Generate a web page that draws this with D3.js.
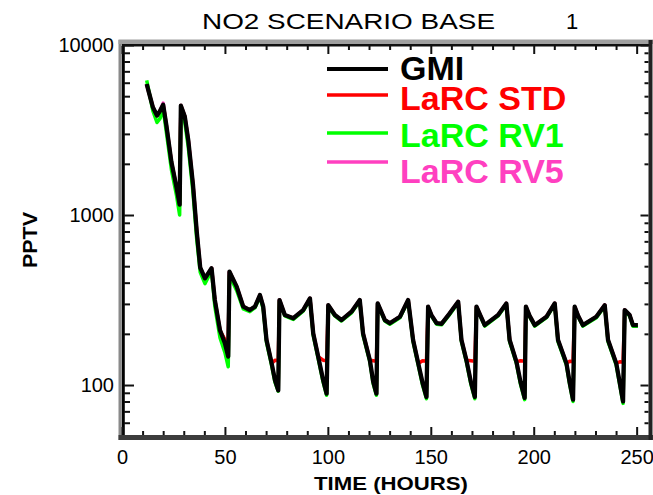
<!DOCTYPE html>
<html><head><meta charset="utf-8">
<script src="https://cdn.jsdelivr.net/npm/d3@7"></script>
<style>body{margin:0;background:#fff}svg{display:block}</style>
</head><body><svg id="c" width="653" height="495"></svg>
<script>
const hours = [12,13,15,17,18.5,20,21.5,24,26.5,28,28.6,30.5,32.2,34.5,36.3,38,40.3,43.5,45.1,47.6,50,51.6,
52.2,55.7,58.9,62.1,64.6,67,68.6,70.2,72.7,74.3,75.9,
76.5,79.1,83.2,88,91.3,92.9,95.3,97.7,99.4,
100.2,103.4,106.6,111.5,115.5,117.1,120.4,122,123.6,
124.2,127.7,130.1,135,139,141.4,143.9,146,147.9,
148.7,150.3,152.8,155.2,159.2,163.3,164.9,167.3,169.5,171.4,
172.2,174,176.2,182.7,186.7,188.3,191.6,193.6,195.6,
196.2,198,200.5,206.2,210.2,211.8,215.9,217.5,219.1,
219.9,221.6,223.9,230.4,234.5,236.1,240.1,241.8,243.4,
244.2,246.6,248.2,250.6];
const gmi = [5900,5300,4300,3850,4100,4450,3400,2050,1450,1150,4400,3800,2750,1500,800,490,424,486,316,210,176,147,
464,379,289,276,289,338,289,184,134,107,93,
316,258,247,276,323,201,147,107,89,
295,258,241,270,316,201,140,105,89,
302,241,231,252,316,184,134,103,85,
289,258,231,229,264,309,184,140,104,85,
289,258,225,258,302,184,137,104,84,
289,255,225,252,302,184,134,103,82,
289,255,225,252,295,184,134,103,80,
276,258,225,225];
const larcStd = [5900,5300,4300,3850,4100,4450,3400,2050,1450,1150,4400,3800,2750,1500,800,490,424,486,316,210,185,182,
464,379,289,276,289,338,289,184,134,140,139,
316,258,247,276,323,201,147,140,139,
295,258,241,270,316,201,140,139,138,
302,241,231,252,316,184,134,139,138,
289,258,231,229,264,309,184,140,139,138,
289,258,225,258,302,184,137,139,138,
289,255,225,252,302,184,134,138,137,
289,255,225,252,295,184,134,137,136,
276,258,225,225];
const larcRv1 = [6200,5400,4100,3500,3700,4200,3100,1850,1300,1000,4200,3500,2500,1350,720,460,395,470,290,190,155,128,
440,360,280,270,285,330,280,178,130,104,92,
310,255,243,272,318,196,143,104,87,
290,255,238,266,312,196,137,102,87,
298,238,228,249,312,180,131,100,83,
285,255,228,226,260,305,180,137,101,83,
285,255,222,255,298,180,134,101,82,
285,252,222,249,298,180,131,100,80,
285,252,222,249,291,180,131,100,78,
272,255,222,222];
const larcRv5 = [5900,5300,4300,3850,4100,4550,3400,2050,1450,1150,4400,3800,2750,1500,800,490,424,486,316,210,176,147,
464,379,289,276,289,338,289,184,134,107,93,
316,258,247,276,323,201,147,107,89,
295,258,241,270,316,201,140,105,89,
302,241,231,252,316,184,134,103,85,
289,258,231,229,264,309,184,140,104,85,
289,258,225,258,302,184,137,104,84,
289,255,225,252,302,184,134,103,82,
289,255,225,252,295,184,134,103,80,
276,258,225,225];
const seriesNames = ["GMI","LaRC STD","LaRC RV1","LaRC RV5"];
const seriesColors = ["#000000","#ff0000","#00ff00","#ff40c0"];
const xMajorTicks = [0,50,100,150,200,250];
const xMinorTicks = d3.range(0,251,10).filter(v=>v%50!==0);
const yMajorTicks = [100,1000,10000];
const yMinorTicks = [60,70,80,90,200,300,400,500,600,700,800,900,2000,3000,4000,5000,6000,7000,8000,9000];
const titleText = "NO2 SCENARIO BASE";
const titleNum = "1";
const xTitle = "TIME (HOURS)";
const yTitle = "PPTV";

const FONT = "'Liberation Sans', Arial, Helvetica, sans-serif";
const svg = d3.select("#c");
const L = 122, R = 649, T = 45, B = 436.2;
const x = d3.scaleLinear().domain([0,256]).range([L,R]);
const y = d3.scaleLog().domain([50,10000]).range([B,T]);

// series lines (drawing order: STD, RV5, RV1, GMI on top)
const seriesData = [larcStd, larcRv5, larcRv1, gmi];
const seriesCol = [seriesColors[1], seriesColors[3], seriesColors[2], seriesColors[0]];
const seriesW = [3.5,3.5,3.5,4.3];
const line = d3.line().x(d=>x(d[0])).y(d=>y(d[1]));
seriesData.forEach((vals,i)=>{
  svg.append("path").datum(hours.map((h,j)=>[h,vals[j]]))
    .attr("d",line).attr("fill","none").attr("stroke",seriesCol[i])
    .attr("stroke-width",seriesW[i]).attr("stroke-linejoin","round");
});

// frame
svg.append("line").attr("x1",120).attr("x2",120).attr("y1",40).attr("y2",440).attr("stroke","#8a8a8a").attr("stroke-width",3);
svg.append("line").attr("x1",123.3).attr("x2",123.3).attr("y1",42).attr("y2",440).attr("stroke","#000").attr("stroke-width",3);
svg.append("line").attr("x1",118.5).attr("x2",653).attr("y1",41.7).attr("y2",41.7).attr("stroke","#a0a0a0").attr("stroke-width",4.6);
svg.append("line").attr("x1",122).attr("x2",651).attr("y1",45.3).attr("y2",45.3).attr("stroke","#111").attr("stroke-width",2.4);
svg.append("line").attr("x1",118.5).attr("x2",653).attr("y1",437.5).attr("y2",437.5).attr("stroke","#3c3c3c").attr("stroke-width",5);
svg.append("line").attr("x1",650.5).attr("x2",650.5).attr("y1",40).attr("y2",440).attr("stroke","#222").attr("stroke-width",4);

function styleAxis(g){ g.select(".domain").remove(); g.selectAll("line").attr("stroke","#111").attr("stroke-width",2); }
// bottom
svg.append("g").attr("transform",`translate(0,${435})`)
  .call(d3.axisBottom(x).tickValues(xMajorTicks).tickSize(-8).tickPadding(15).tickFormat(d3.format("d")))
  .call(styleAxis).call(g=>g.selectAll("text").attr("font-family",FONT).attr("font-size",20).attr("fill","#000"));
svg.append("g").attr("transform",`translate(0,${435})`)
  .call(d3.axisBottom(x).tickValues(xMinorTicks).tickSize(-4).tickFormat(""))
  .call(styleAxis);
// top
svg.append("g").attr("transform",`translate(0,${46})`)
  .call(d3.axisTop(x).tickValues(xMajorTicks).tickSize(-8).tickFormat("")).call(styleAxis);
svg.append("g").attr("transform",`translate(0,${46})`)
  .call(d3.axisTop(x).tickValues(xMinorTicks).tickSize(-4).tickFormat("")).call(styleAxis);
// left
svg.append("g").attr("transform",`translate(${124},0)`)
  .call(d3.axisLeft(y).tickValues(yMajorTicks).tickSize(-10).tickPadding(10).tickFormat(d3.format("d")))
  .call(styleAxis).call(g=>g.selectAll("text").attr("font-family",FONT).attr("font-size",20).attr("fill","#000"));
svg.append("g").attr("transform",`translate(${124},0)`)
  .call(d3.axisLeft(y).tickValues(yMinorTicks).tickSize(-6).tickFormat("")).call(styleAxis);
// right
svg.append("g").attr("transform",`translate(${648.5},0)`)
  .call(d3.axisRight(y).tickValues(yMajorTicks).tickSize(-8).tickFormat("")).call(styleAxis);
svg.append("g").attr("transform",`translate(${648.5},0)`)
  .call(d3.axisRight(y).tickValues(yMinorTicks).tickSize(-4).tickFormat("")).call(styleAxis);

// titles
svg.append("text").attr("x",202).attr("y",29).attr("font-family",FONT).attr("font-size",22)
  .attr("textLength",293).attr("lengthAdjust","spacingAndGlyphs").text(titleText);
svg.append("text").attr("x",566).attr("y",29).attr("font-family",FONT).attr("font-size",22).text(titleNum);
svg.append("text").attr("x",391).attr("y",490).attr("text-anchor","middle").attr("font-family",FONT)
  .attr("font-size",19).attr("font-weight","bold").attr("textLength",154).attr("lengthAdjust","spacingAndGlyphs").text(xTitle);
svg.append("text").attr("transform","translate(37,240) rotate(-90)").attr("text-anchor","middle").attr("font-family",FONT)
  .attr("font-size",20).attr("font-weight","bold").attr("textLength",56).attr("lengthAdjust","spacingAndGlyphs").text(yTitle);

// legend
const legBase = [80,110,147,183];
const legLine = [69,95,133,162];
seriesNames.forEach((n,i)=>{
  svg.append("line").attr("x1",327).attr("x2",388).attr("y1",legLine[i]).attr("y2",legLine[i])
    .attr("stroke",seriesColors[i]).attr("stroke-width",i===0?4:3.5);
  svg.append("text").attr("x",400).attr("y",legBase[i]).attr("font-family",FONT).attr("font-size",34)
    .attr("font-weight","bold").attr("fill",seriesColors[i]).text(n);
});
</script></body></html>
